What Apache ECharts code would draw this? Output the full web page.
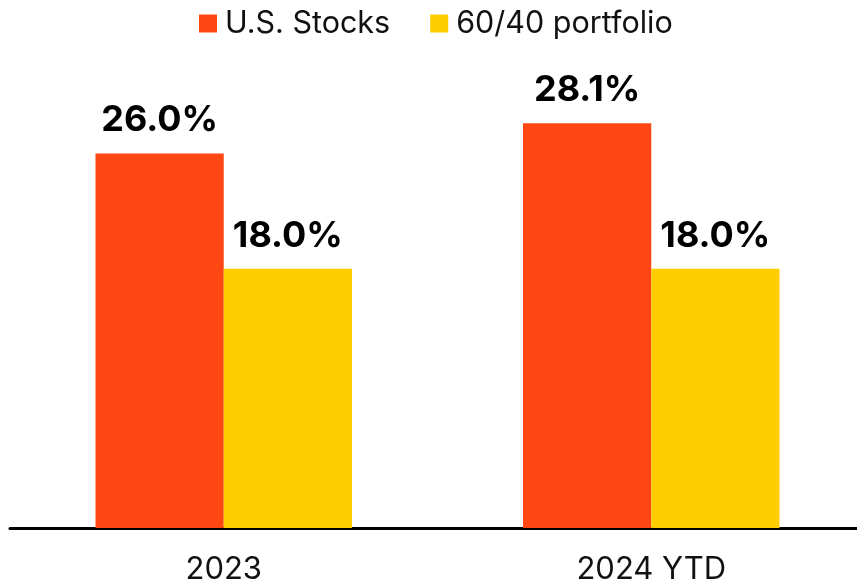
<!DOCTYPE html>
<html>
<head>
<meta charset="utf-8">
<script src="https://cdn.jsdelivr.net/npm/echarts@6/dist/echarts.min.js"></script>
<style>
  html, body { margin: 0; padding: 0; background: #fff; }
  #chart { width: 857px; height: 583px; }
</style>
</head>
<body>
<div id="chart"></div>
<script>
var categories = ['2023', '2024 YTD'];
var usStocks = [26.0, 28.1];
var portfolio6040 = [18.0, 18.0];
var seriesNames = ['U.S. Stocks', '60/40 portfolio'];

var chart = echarts.init(document.getElementById('chart'));

var labelStyle = {
    show: true,
    position: 'top',
    distance: 15,
    color: '#000',
    fontFamily: 'Inter',
    fontWeight: 'bold',
    fontSize: 36,
    formatter: function (p) { return p.value.toFixed(1) + '%'; }
};

var option = {
    animation: false,
    legend: {
        top: 8,
        left: 199,
        padding: 0,
        itemWidth: 18,
        itemHeight: 18,
        itemGap: 40,
        icon: 'rect',
        textStyle: { fontFamily: 'Inter', fontSize: 30.5, color: '#111', padding: [0, 0, 0, 3] },
        data: seriesNames
    },
    grid: { left: 10, width: 855, top: 96, bottom: 55, outerBoundsMode: 'none' },
    xAxis: {
        type: 'category',
        data: categories,
        axisLine: { lineStyle: { color: '#000', width: 3 } },
        axisTick: { show: false },
        axisLabel: { fontFamily: 'Inter', fontSize: 31, color: '#111', margin: 26 }
    },
    yAxis: {
        type: 'value',
        min: 0,
        max: 30,
        show: false
    },
    series: [
        {
            name: seriesNames[0],
            type: 'bar',
            data: usStocks,
            barGap: 0,
            barCategoryGap: '40%',
            itemStyle: { color: '#FF4713' },
            label: labelStyle
        },
        {
            name: seriesNames[1],
            type: 'bar',
            data: portfolio6040,
            itemStyle: { color: '#FFCE00' },
            label: labelStyle
        }
    ]
};

chart.setOption(option);
</script>
</body>
</html>
